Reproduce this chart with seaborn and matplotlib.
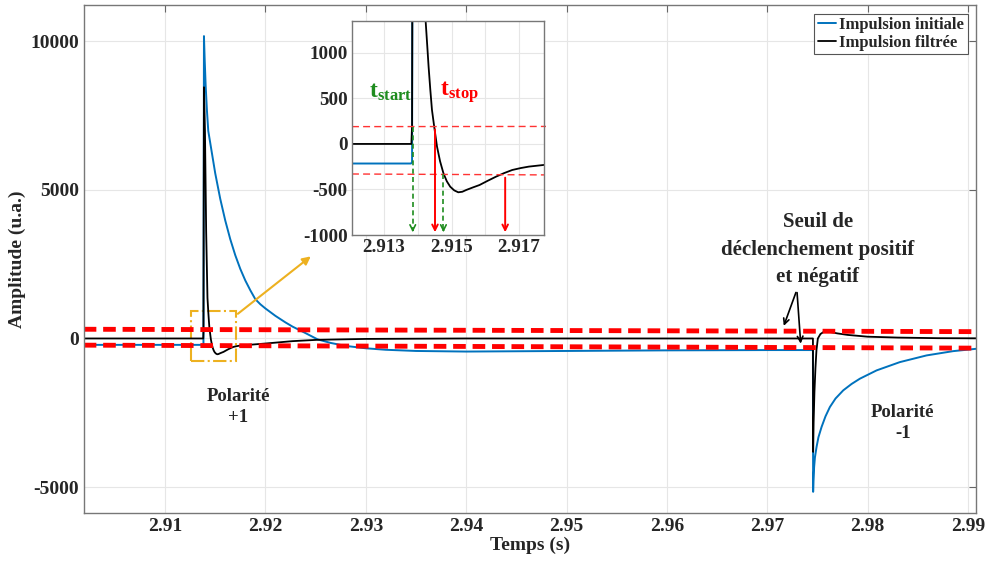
import matplotlib
matplotlib.use("Agg")
import matplotlib.pyplot as plt
import matplotlib.patches as mpatches
import numpy as np
import pandas as pd
import seaborn as sns

# signal traces
t_init = [2.9019, 2.91380, 2.91383, 2.91388, 2.91395, 2.91405, 2.91418, 2.91431, 2.9150, 2.9155,
          2.9160, 2.9165, 2.9170, 2.9175, 2.9180, 2.9185, 2.9190, 2.9195, 2.9200, 2.9210,
          2.9220, 2.9227, 2.9240, 2.9252, 2.9265, 2.9280, 2.9300, 2.9320, 2.9350, 2.9400,
          2.9450, 2.9500, 2.9550, 2.9600, 2.9650, 2.9700, 2.97455, 2.97457, 2.97460, 2.97467,
          2.97475, 2.97491, 2.97510, 2.97541, 2.97580, 2.97624, 2.97680, 2.97757, 2.97840, 2.97923,
          2.98089, 2.98321, 2.98587, 2.98852, 2.99085]
v_init = [-215, -215, -200, 10170, 9400, 8500, 7650, 6980, 5560, 4700,
          3970, 3340, 2800, 2340, 1950, 1620, 1320, 1150, 1010, 760,
          540, 400, 180, -30, -150, -250, -330, -380, -420, -440,
          -430, -420, -410, -400, -395, -390, -390, -5158, -4800, -4320,
          -4000, -3650, -3320, -2977, -2620, -2305, -2020, -1745, -1530, -1352,
          -1074, -795, -570, -426, -346]

t_filt = [2.9019, 2.91381, 2.91383, 2.91388, 2.91398, 2.91410, 2.91423, 2.91428, 2.91432, 2.91437,
          2.91442, 2.91449, 2.91457, 2.91466, 2.91476, 2.91486, 2.91496, 2.91508, 2.91520, 2.91532,
          2.91544, 2.91563, 2.91583, 2.91607, 2.91632, 2.91656, 2.91680, 2.91705, 2.91729, 2.91751,
          2.91773, 2.9200, 2.9227, 2.9252, 2.9300, 2.9400, 2.97455, 2.97457, 2.97462, 2.97470,
          2.97480, 2.97490, 2.97504, 2.97530, 2.97573, 2.97620, 2.97700, 2.97800, 2.98000, 2.98300,
          2.98700, 2.99085]
v_filt = [0, 0, 200, 8450, 6980, 3600, 1363, 1080, 849, 600,
          374, 180, -30, -190, -322, -410, -469, -510, -531, -525,
          -505, -478, -451, -405, -359, -320, -286, -265, -249, -240,
          -231, -170, -90, -45, -15, 0, 0, -3815, -2800, -1800,
          -1000, -400, 0, 150, 245, 220, 170, 120, 60, 30,
          10, 5]

# trigger thresholds
thr_t = [2.9019, 2.9908]
thr_hi = [310, 230]
thr_lo = [-225, -325]
thr_in_t = [2.91205, 2.9178]
thr_in_hi = [190, 192]
thr_in_lo = [-330, -340]

# t_start / t_stop markers in the inset
start_t = [2.91385, 2.91476]
start_from = [190, -330]
stop_t = [2.91451, 2.91659]
stop_from = [190, -340]

blue = "#0072BD"
orange = "#EDB120"
green = "#1E8C1E"

sns.set_style("whitegrid")
plt.rcParams["font.family"] = ["Liberation Serif", "DejaVu Serif"]
plt.rcParams["font.weight"] = "bold"
plt.rcParams["axes.unicode_minus"] = False
plt.rcParams["mathtext.fontset"] = "custom"
plt.rcParams["mathtext.rm"] = "Liberation Serif"
plt.rcParams["mathtext.bf"] = "Liberation Serif:bold"

df_init = pd.DataFrame({"t": t_init, "v": v_init})
df_filt = pd.DataFrame({"t": t_filt, "v": v_filt})

fig = plt.figure(figsize=(9.86, 5.70), dpi=100)
ax = fig.add_axes([0.0852, 0.1, 0.9047, 0.8904])

sns.lineplot(data=df_init, x="t", y="v", ax=ax, color=blue, lw=1.4, sort=False, estimator=None,
             label="Impulsion initiale")
sns.lineplot(data=df_filt, x="t", y="v", ax=ax, color="black", lw=1.3, sort=False, estimator=None,
             label="Impulsion filtrée")
ax.plot(thr_t, thr_hi, color="red", lw=3.5, ls=(0, (2.6, 1.4)))
ax.plot(thr_t, thr_lo, color="red", lw=3.5, ls=(0, (2.6, 1.4)))

ax.set_xlim(2.90193, 2.9908)
ax.set_ylim(-5870, 11200)
ax.set_xticks([2.91, 2.92, 2.93, 2.94, 2.95, 2.96, 2.97, 2.98, 2.99])
ax.set_xticklabels(["2.91", "2.92", "2.93", "2.94", "2.95", "2.96", "2.97", "2.98", "2.99"])
ax.set_yticks([-5000, 0, 5000, 10000])
ax.set_yticklabels(["-5000", "0", "5000", "10000"])
ax.tick_params(labelsize=14, direction="in", top=True, right=True, length=5, color="#666666")
ax.grid(True, color="#e6e6e6", lw=0.8)
for s in ax.spines.values():
    s.set_color("#777777")
    s.set_linewidth(1)
ax.set_xlabel("Temps (s)", fontsize=14, fontweight="bold", labelpad=1)
ax.set_ylabel("Amplitude (u.a.)", fontsize=14, fontweight="bold", labelpad=3)

leg = ax.legend(loc="upper right", fontsize=12, handlelength=1.1, handletextpad=0.2,
                borderpad=0.2, labelspacing=0.1, fancybox=False, framealpha=1,
                edgecolor="#555555", borderaxespad=0.5)
leg.get_frame().set_linewidth(0.8)

# zoom box and arrow
rect = mpatches.Rectangle((2.91256, -760), 0.00448, 1700, fill=False, ec=orange, lw=1.5, ls="-.")
ax.add_patch(rect)
ax.annotate("", xy=(2.92474, 2819), xytext=(2.91704, 772),
            arrowprops=dict(arrowstyle="-|>", color=orange, lw=1.5, mutation_scale=12))

ax.text(2.91727, -2305, "Polarité\n+1", ha="center", va="center", fontsize=13.5, fontweight="bold",
        linespacing=1.25)
ax.text(2.98350, -2843, "Polarité\n-1", ha="center", va="center", fontsize=13.5, fontweight="bold",
        linespacing=1.25)
ax.text(2.97504, 2978, "Seuil de\ndéclenchement positif\net négatif", ha="center", va="center",
        fontsize=15, fontweight="bold", linespacing=1.5)
for hx, hy in [(2.97155, 336), (2.97335, -268)]:
    ax.annotate("", xy=(hx, hy), xytext=(2.97295, 1635),
                arrowprops=dict(arrowstyle="->", color="black", lw=1.2, mutation_scale=10))

# inset
axin = fig.add_axes([0.357, 0.5877, 0.1947, 0.3755])
sns.lineplot(data=df_init, x="t", y="v", ax=axin, color=blue, lw=1.4, sort=False, estimator=None,
             legend=False)
sns.lineplot(data=df_filt, x="t", y="v", ax=axin, color="black", lw=1.3, sort=False, estimator=None,
             legend=False)
axin.plot(thr_in_t, thr_in_hi, color="#FF3333", lw=1, ls=(0, (5, 3)), clip_on=False)
axin.plot(thr_in_t[:1] + [2.91774], thr_in_lo, color="#FF3333", lw=1, ls=(0, (5, 3)))
for tx, y0 in zip(start_t, start_from):
    axin.plot([tx, tx], [y0, -960], color=green, lw=1.2, ls=(0, (3, 2)))
    axin.annotate("", xy=(tx, -1000), xytext=(tx, -900),
                  arrowprops=dict(arrowstyle="->", color=green, lw=1.2, mutation_scale=10))
for tx, y0 in zip(stop_t, stop_from):
    axin.annotate("", xy=(tx, -1000), xytext=(tx, y0),
                  arrowprops=dict(arrowstyle="->", color="red", lw=1.4, mutation_scale=10))
axin.text(2.91255, 571, r"$\mathbf{t_{start}}$", color=green, fontsize=17, va="center")
axin.text(2.91466, 571, r"$\mathbf{t_{stop}}$", color="red", fontsize=17, va="center")

axin.set_xlim(2.91205, 2.91774)
axin.set_ylim(-1000, 1350)
axin.set_xticks([2.913, 2.914, 2.915, 2.916, 2.917])
axin.set_xticklabels(["2.913", "", "2.915", "", "2.917"])
axin.set_yticks([-1000, -500, 0, 500, 1000])
axin.set_yticklabels(["-1000", "-500", "0", "500", "1000"])
axin.tick_params(labelsize=13.7, direction="in", length=4, color="#666666", pad=3)
axin.grid(True, color="#e6e6e6", lw=0.8)
axin.set_xlabel("")
axin.set_ylabel("")
for s in axin.spines.values():
    s.set_color("#777777")
    s.set_linewidth(1)

fig.savefig("out.png", dpi=100)
